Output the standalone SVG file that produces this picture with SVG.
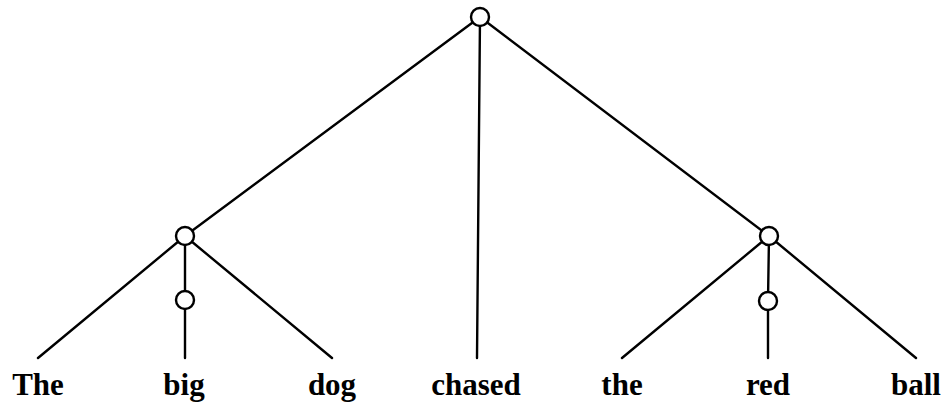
<svg xmlns="http://www.w3.org/2000/svg" width="945" height="404" viewBox="0 0 945 404">
<style>
.e{stroke:#000;stroke-width:2.4;fill:none;stroke-linecap:round}
.n{stroke:#000;stroke-width:2.4;fill:#fff}
.t{font-family:"Liberation Serif","DejaVu Serif",serif;font-weight:bold;font-size:31px;text-anchor:middle;fill:#000}
</style>
<rect width="945" height="404" fill="#fff"/>
<g id="connectors">
<line class="e" x1="480" y1="17" x2="185" y2="236"/>
<line class="e" x1="480" y1="17" x2="477" y2="358"/>
<line class="e" x1="480" y1="17" x2="769" y2="236"/>
<line class="e" x1="185" y1="236" x2="38" y2="358"/>
<line class="e" x1="185" y1="236" x2="185" y2="300"/>
<line class="e" x1="185" y1="300" x2="185" y2="358"/>
<line class="e" x1="185" y1="236" x2="332" y2="358"/>
<line class="e" x1="769" y1="236" x2="622" y2="358"/>
<line class="e" x1="769" y1="236" x2="768" y2="301"/>
<line class="e" x1="768" y1="301" x2="768" y2="358"/>
<line class="e" x1="769" y1="236" x2="916" y2="358"/>
</g>
<g id="root"><circle class="n" cx="480" cy="17" r="9"/></g>
<g id="np1"><circle class="n" cx="185" cy="236" r="9"/></g>
<g id="adj1"><circle class="n" cx="185" cy="300" r="9"/></g>
<g id="np2"><circle class="n" cx="769" cy="236" r="9"/></g>
<g id="adj2"><circle class="n" cx="768" cy="301" r="9"/></g>
<g id="w1"><text class="t" x="38" y="395">The</text></g>
<g id="w2"><text class="t" x="184" y="395">big</text></g>
<g id="w3"><text class="t" x="332" y="395">dog</text></g>
<g id="w4"><text class="t" x="476" y="395">chased</text></g>
<g id="w5"><text class="t" x="622" y="395">the</text></g>
<g id="w6"><text class="t" x="768" y="395">red</text></g>
<g id="w7"><text class="t" x="916" y="395">ball</text></g>
</svg>
